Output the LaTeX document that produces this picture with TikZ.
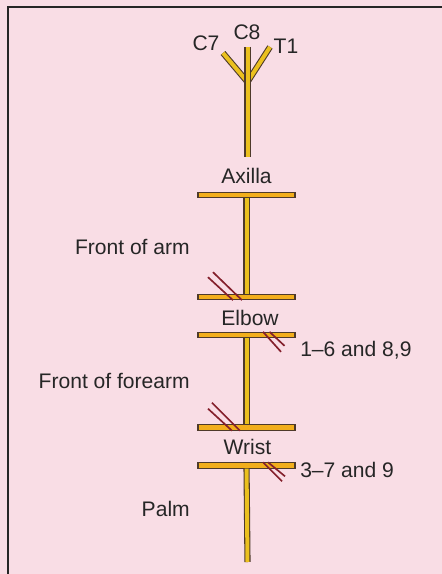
\documentclass[tikz,border=0pt]{standalone}
\usepackage{fontspec}
\setmainfont{Liberation Sans}
\usetikzlibrary{calc}
\definecolor{pagepink}{HTML}{F9DDE5}
\definecolor{nerveyellow}{HTML}{EBC01E}
\definecolor{barorange}{HTML}{F2AE1C}
\definecolor{nerveedge}{HTML}{4E3A2A}
\definecolor{hatchred}{HTML}{84202C}
\tikzset{
    nv trunk/.style={draw=nerveedge, line width=0.8pt,
                     double=nerveyellow, double distance=3pt},
    nv bar/.style={rectangle, draw=nerveedge, line width=0.8pt,
                   fill=barorange, minimum width=72.75pt,
                   minimum height=4pt, inner sep=0pt},
    nv cut/.style={draw=hatchred, line width=1.25pt},
    nv lbl/.style={font=\fontsize{15.8}{18}\selectfont,
                   text=black!85, inner sep=0pt},
    nv region/.style={nv lbl, anchor=east},
    nv frame/.style={draw=black!85, line width=1.1pt},
}

\begin{document}
\begin{tikzpicture}[x=0.75pt, y=-0.75pt]
    \fill[pagepink] (0,0) rectangle (442,574);
    \useasboundingbox (0,0) rectangle (442,574);
    \draw[nv frame] (8,574) -- (8,7) -- (442,7);
    % Roots
    \coordinate (c7 tip) at (223,53);
    \coordinate (t1 tip) at (270,47);
    \coordinate (fork) at (247.5,82);
    \coordinate (root top) at (247.5,47);
    \coordinate (root end) at (247.5,157);
    \draw[nv trunk] (c7 tip) -- (fork);
    \draw[nv trunk] (t1 tip) -- (fork);
    \draw[nv trunk] (root top) -- (root end);
    \node[nv lbl] (c7) at (206,43) {C7};
    \node[nv lbl] (c8) at (247,32) {C8};
    \node[nv lbl] (t1) at (286,46) {T1};
    % Levels
    \node[nv bar] (axilla bar) at (246.5,195) {};
    \node[nv bar] (elbow top) at (246.5,297) {};
    \node[nv bar] (elbow bottom) at (246.5,335) {};
    \node[nv bar] (wrist top) at (246.5,427.5) {};
    \node[nv bar] (wrist bottom) at (246.5,465.5) {};
    \coordinate (palm end) at (247.5,562);
    \draw[nv trunk] (axilla bar) -- (elbow top);
    \draw[nv trunk] (elbow bottom) -- (wrist top);
    \draw[nv trunk] (wrist bottom) -- (palm end);
    \node[nv lbl] (axilla) at (246.5,176) {Axilla};
    \node[nv lbl] (elbow) at (250,317.5) {Elbow};
    \node[nv lbl] (wrist) at (247.5,447) {Wrist};
    % Cut branches
    \draw[nv cut] ($(elbow top.south)+(-4.5,0)$) -- ++(-29,-28);
    \draw[nv cut] ($(elbow top.south)+(-13.5,0)$) -- ++(-25,-23);
    \draw[nv cut] ($(elbow bottom.north)+(16.5,0)$) -- ++(18,20);
    \draw[nv cut] ($(elbow bottom.north)+(23,0)$) -- ++(15,14);
    \draw[nv cut] ($(wrist top.south)+(-6.5,0)$) -- ++(-28,-28);
    \draw[nv cut] ($(wrist top.south)+(-14.5,0)$) -- ++(-24,-22);
    \draw[nv cut] ($(wrist bottom.north)+(16.5,0)$) -- ++(19,19);
    \draw[nv cut] ($(wrist bottom.north)+(21.5,0)$) -- ++(17,14);
    % Regions
    \node[nv region] (arm) at (190,247) {Front of arm};
    \node[nv region] (forearm) at (190,381) {Front of forearm};
    \node[nv region] (palm) at (190,509) {Palm};
    \node[nv lbl, anchor=west] (elbow br) at (300,350) {1--6 and 8,9};
    \node[nv lbl, anchor=west] (wrist br) at (300,470) {3--7 and 9};
\end{tikzpicture}
\end{document}
